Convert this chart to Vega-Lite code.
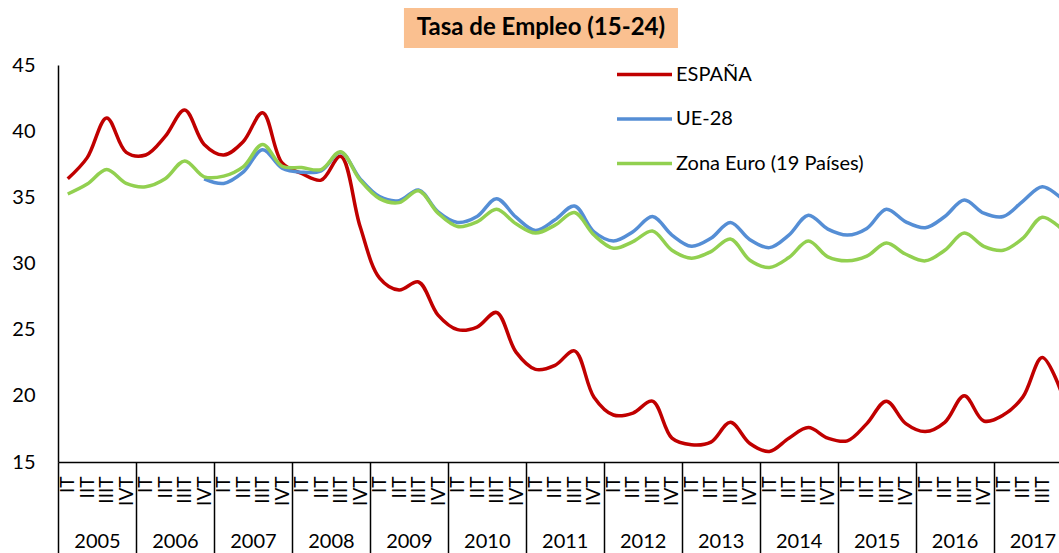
{
  "$schema": "https://vega.github.io/schema/vega-lite/v6.json",
  "width": 1001,
  "height": 397,
  "autosize": {"type": "none"},
  "padding": {"left": 58, "top": 65, "right": 0, "bottom": 91},
  "background": "white",
  "config": {
    "view": {"stroke": null},
    "font": "Lato",
    "axis": {"grid": false, "labelFont": "Lato", "labelColor": "black"},
    "legend": {"labelFont": "Lato", "labelColor": "black"},
    "text": {"font": "Lato"}
  },
  "datasets": {
    "titulo": [{"titulo": "Tasa de Empleo (15-24)"}],
    "serie": [
      {"t": 0, "serie": "ESPAÑA", "v": 36.4}, {"t": 1, "serie": "ESPAÑA", "v": 38.0}, {"t": 2, "serie": "ESPAÑA", "v": 41.0}, {"t": 3, "serie": "ESPAÑA", "v": 38.4},
      {"t": 4, "serie": "ESPAÑA", "v": 38.2}, {"t": 5, "serie": "ESPAÑA", "v": 39.6}, {"t": 6, "serie": "ESPAÑA", "v": 41.6}, {"t": 7, "serie": "ESPAÑA", "v": 39.0},
      {"t": 8, "serie": "ESPAÑA", "v": 38.2}, {"t": 9, "serie": "ESPAÑA", "v": 39.2}, {"t": 10, "serie": "ESPAÑA", "v": 41.4}, {"t": 11, "serie": "ESPAÑA", "v": 37.6},
      {"t": 12, "serie": "ESPAÑA", "v": 36.8}, {"t": 13, "serie": "ESPAÑA", "v": 36.3}, {"t": 14, "serie": "ESPAÑA", "v": 38.1}, {"t": 15, "serie": "ESPAÑA", "v": 32.8},
      {"t": 16, "serie": "ESPAÑA", "v": 28.9}, {"t": 17, "serie": "ESPAÑA", "v": 28.0}, {"t": 18, "serie": "ESPAÑA", "v": 28.6}, {"t": 19, "serie": "ESPAÑA", "v": 26.1},
      {"t": 20, "serie": "ESPAÑA", "v": 25.0}, {"t": 21, "serie": "ESPAÑA", "v": 25.2}, {"t": 22, "serie": "ESPAÑA", "v": 26.3}, {"t": 23, "serie": "ESPAÑA", "v": 23.3},
      {"t": 24, "serie": "ESPAÑA", "v": 22.0}, {"t": 25, "serie": "ESPAÑA", "v": 22.3}, {"t": 26, "serie": "ESPAÑA", "v": 23.4}, {"t": 27, "serie": "ESPAÑA", "v": 19.9},
      {"t": 28, "serie": "ESPAÑA", "v": 18.55}, {"t": 29, "serie": "ESPAÑA", "v": 18.7}, {"t": 30, "serie": "ESPAÑA", "v": 19.6}, {"t": 31, "serie": "ESPAÑA", "v": 16.8},
      {"t": 32, "serie": "ESPAÑA", "v": 16.3}, {"t": 33, "serie": "ESPAÑA", "v": 16.5}, {"t": 34, "serie": "ESPAÑA", "v": 18.0}, {"t": 35, "serie": "ESPAÑA", "v": 16.4},
      {"t": 36, "serie": "ESPAÑA", "v": 15.8}, {"t": 37, "serie": "ESPAÑA", "v": 16.8}, {"t": 38, "serie": "ESPAÑA", "v": 17.6}, {"t": 39, "serie": "ESPAÑA", "v": 16.8},
      {"t": 40, "serie": "ESPAÑA", "v": 16.6}, {"t": 41, "serie": "ESPAÑA", "v": 17.9}, {"t": 42, "serie": "ESPAÑA", "v": 19.6}, {"t": 43, "serie": "ESPAÑA", "v": 17.9},
      {"t": 44, "serie": "ESPAÑA", "v": 17.3}, {"t": 45, "serie": "ESPAÑA", "v": 18.0}, {"t": 46, "serie": "ESPAÑA", "v": 20.0}, {"t": 47, "serie": "ESPAÑA", "v": 18.1},
      {"t": 48, "serie": "ESPAÑA", "v": 18.55}, {"t": 49, "serie": "ESPAÑA", "v": 19.9}, {"t": 50, "serie": "ESPAÑA", "v": 22.9}, {"t": 51, "serie": "ESPAÑA", "v": 20.2},
      {"t": 7, "serie": "UE-28", "v": 36.4},
      {"t": 8, "serie": "UE-28", "v": 36.05}, {"t": 9, "serie": "UE-28", "v": 36.9}, {"t": 10, "serie": "UE-28", "v": 38.6}, {"t": 11, "serie": "UE-28", "v": 37.2},
      {"t": 12, "serie": "UE-28", "v": 36.9}, {"t": 13, "serie": "UE-28", "v": 37.0}, {"t": 14, "serie": "UE-28", "v": 38.4}, {"t": 15, "serie": "UE-28", "v": 36.4},
      {"t": 16, "serie": "UE-28", "v": 35.05}, {"t": 17, "serie": "UE-28", "v": 34.75}, {"t": 18, "serie": "UE-28", "v": 35.55}, {"t": 19, "serie": "UE-28", "v": 33.9},
      {"t": 20, "serie": "UE-28", "v": 33.1}, {"t": 21, "serie": "UE-28", "v": 33.55}, {"t": 22, "serie": "UE-28", "v": 34.9}, {"t": 23, "serie": "UE-28", "v": 33.5},
      {"t": 24, "serie": "UE-28", "v": 32.5}, {"t": 25, "serie": "UE-28", "v": 33.3}, {"t": 26, "serie": "UE-28", "v": 34.35}, {"t": 27, "serie": "UE-28", "v": 32.4},
      {"t": 28, "serie": "UE-28", "v": 31.7}, {"t": 29, "serie": "UE-28", "v": 32.4}, {"t": 30, "serie": "UE-28", "v": 33.55}, {"t": 31, "serie": "UE-28", "v": 32.15},
      {"t": 32, "serie": "UE-28", "v": 31.3}, {"t": 33, "serie": "UE-28", "v": 31.9}, {"t": 34, "serie": "UE-28", "v": 33.1}, {"t": 35, "serie": "UE-28", "v": 31.8},
      {"t": 36, "serie": "UE-28", "v": 31.2}, {"t": 37, "serie": "UE-28", "v": 32.15}, {"t": 38, "serie": "UE-28", "v": 33.65}, {"t": 39, "serie": "UE-28", "v": 32.6},
      {"t": 40, "serie": "UE-28", "v": 32.15}, {"t": 41, "serie": "UE-28", "v": 32.65}, {"t": 42, "serie": "UE-28", "v": 34.1}, {"t": 43, "serie": "UE-28", "v": 33.15},
      {"t": 44, "serie": "UE-28", "v": 32.7}, {"t": 45, "serie": "UE-28", "v": 33.55}, {"t": 46, "serie": "UE-28", "v": 34.8}, {"t": 47, "serie": "UE-28", "v": 33.8},
      {"t": 48, "serie": "UE-28", "v": 33.55}, {"t": 49, "serie": "UE-28", "v": 34.7}, {"t": 50, "serie": "UE-28", "v": 35.8}, {"t": 51, "serie": "UE-28", "v": 34.9},
      {"t": 0, "serie": "Zona Euro (19 Países)", "v": 35.25}, {"t": 1, "serie": "Zona Euro (19 Países)", "v": 36.0}, {"t": 2, "serie": "Zona Euro (19 Países)", "v": 37.1}, {"t": 3, "serie": "Zona Euro (19 Países)", "v": 36.05},
      {"t": 4, "serie": "Zona Euro (19 Países)", "v": 35.8}, {"t": 5, "serie": "Zona Euro (19 Países)", "v": 36.4}, {"t": 6, "serie": "Zona Euro (19 Países)", "v": 37.75}, {"t": 7, "serie": "Zona Euro (19 Países)", "v": 36.55},
      {"t": 8, "serie": "Zona Euro (19 Países)", "v": 36.6}, {"t": 9, "serie": "Zona Euro (19 Países)", "v": 37.3}, {"t": 10, "serie": "Zona Euro (19 Países)", "v": 39.0}, {"t": 11, "serie": "Zona Euro (19 Países)", "v": 37.35},
      {"t": 12, "serie": "Zona Euro (19 Países)", "v": 37.25}, {"t": 13, "serie": "Zona Euro (19 Países)", "v": 37.1}, {"t": 14, "serie": "Zona Euro (19 Países)", "v": 38.45}, {"t": 15, "serie": "Zona Euro (19 Países)", "v": 36.3},
      {"t": 16, "serie": "Zona Euro (19 Países)", "v": 34.9}, {"t": 17, "serie": "Zona Euro (19 Países)", "v": 34.6}, {"t": 18, "serie": "Zona Euro (19 Países)", "v": 35.5}, {"t": 19, "serie": "Zona Euro (19 Países)", "v": 33.8},
      {"t": 20, "serie": "Zona Euro (19 Países)", "v": 32.8}, {"t": 21, "serie": "Zona Euro (19 Países)", "v": 33.15}, {"t": 22, "serie": "Zona Euro (19 Países)", "v": 34.1}, {"t": 23, "serie": "Zona Euro (19 Países)", "v": 33.0},
      {"t": 24, "serie": "Zona Euro (19 Países)", "v": 32.3}, {"t": 25, "serie": "Zona Euro (19 Países)", "v": 32.9}, {"t": 26, "serie": "Zona Euro (19 Países)", "v": 33.85}, {"t": 27, "serie": "Zona Euro (19 Países)", "v": 32.15},
      {"t": 28, "serie": "Zona Euro (19 Países)", "v": 31.15}, {"t": 29, "serie": "Zona Euro (19 Países)", "v": 31.65}, {"t": 30, "serie": "Zona Euro (19 Países)", "v": 32.45}, {"t": 31, "serie": "Zona Euro (19 Países)", "v": 31.0},
      {"t": 32, "serie": "Zona Euro (19 Países)", "v": 30.4}, {"t": 33, "serie": "Zona Euro (19 Países)", "v": 30.9}, {"t": 34, "serie": "Zona Euro (19 Países)", "v": 31.85}, {"t": 35, "serie": "Zona Euro (19 Países)", "v": 30.25},
      {"t": 36, "serie": "Zona Euro (19 Países)", "v": 29.7}, {"t": 37, "serie": "Zona Euro (19 Países)", "v": 30.45}, {"t": 38, "serie": "Zona Euro (19 Países)", "v": 31.7}, {"t": 39, "serie": "Zona Euro (19 Países)", "v": 30.5},
      {"t": 40, "serie": "Zona Euro (19 Países)", "v": 30.2}, {"t": 41, "serie": "Zona Euro (19 Países)", "v": 30.55}, {"t": 42, "serie": "Zona Euro (19 Países)", "v": 31.55}, {"t": 43, "serie": "Zona Euro (19 Países)", "v": 30.7},
      {"t": 44, "serie": "Zona Euro (19 Países)", "v": 30.2}, {"t": 45, "serie": "Zona Euro (19 Países)", "v": 31.0}, {"t": 46, "serie": "Zona Euro (19 Países)", "v": 32.3}, {"t": 47, "serie": "Zona Euro (19 Países)", "v": 31.3},
      {"t": 48, "serie": "Zona Euro (19 Países)", "v": 31.0}, {"t": 49, "serie": "Zona Euro (19 Países)", "v": 31.9}, {"t": 50, "serie": "Zona Euro (19 Países)", "v": 33.5}, {"t": 51, "serie": "Zona Euro (19 Países)", "v": 32.6}
    ]
  },
  "layer": [
    {
      "data": {"name": "titulo"},
      "mark": {"type": "rect", "color": "#FAC090"},
      "encoding": {
        "x": {
          "datum": 17.25, "type": "quantitative",
          "scale": {"domain": [-0.5, 50.86], "nice": false, "zero": false},
          "axis": {
            "orient": "bottom",
            "values": [-0.5, 3.5, 7.5, 11.5, 15.5, 19.5, 23.5, 27.5, 31.5, 35.5, 39.5, 43.5, 47.5, 51.5],
            "labelExpr": "datum.value < 50 ? '' + (2005 + (datum.value + 0.5) / 4) : ''",
            "labelOffset": 39, "labelAngle": 0, "labelAlign": "center", "labelBaseline": "middle",
            "labelPadding": -12, "tickSize": 91, "tickWidth": 1.5, "tickColor": "black",
            "domain": false, "grid": false, "title": null, "labelFontSize": 20,
            "labelOverlap": false, "labelFlush": false, "labelBound": false
          }
        },
        "x2": {"datum": 31.31},
        "y": {"datum": 49.31, "type": "quantitative", "scale": {"domain": [15, 45], "nice": false, "zero": false}, "axis": null},
        "y2": {"datum": 46.28}
      }
    },
    {
      "data": {"name": "titulo"},
      "mark": {"type": "text", "fontWeight": "bold", "fontSize": 24, "color": "black", "align": "center", "baseline": "middle"},
      "encoding": {
        "text": {"field": "titulo"},
        "x": {"datum": 24.28, "type": "quantitative", "scale": {"domain": [-0.5, 50.86], "nice": false, "zero": false}, "axis": null},
        "y": {"datum": 47.8, "type": "quantitative", "scale": {"domain": [15, 45], "nice": false, "zero": false}, "axis": null}
      }
    },
    {
      "data": {"name": "serie"},
      "mark": {"type": "line", "interpolate": "catmull-rom", "strokeWidth": 3.5, "clip": true},
      "encoding": {
        "x": {
          "field": "t", "type": "quantitative",
          "scale": {"domain": [-0.5, 50.86], "nice": false, "zero": false},
          "axis": {
            "orient": "bottom",
            "values": [0,1,2,3,4,5,6,7,8,9,10,11,12,13,14,15,16,17,18,19,20,21,22,23,24,25,26,27,28,29,30,31,32,33,34,35,36,37,38,39,40,41,42,43,44,45,46,47,48,49,50,51],
            "labelExpr": "['IT','IIT','IIIT','IVT'][datum.value % 4]",
            "labelAngle": 270, "labelAlign": "right", "labelBaseline": "middle",
            "labelPadding": 14, "ticks": false, "domain": true, "domainColor": "black", "domainWidth": 1.5,
            "labelFontSize": 19, "labelOverlap": false, "labelFlush": false, "labelBound": false, "title": null, "grid": false
          }
        },
        "y": {
          "field": "v", "type": "quantitative",
          "scale": {"domain": [15, 45], "nice": false, "zero": false},
          "axis": {
            "orient": "left", "values": [15, 20, 25, 30, 35, 40, 45], "ticks": false,
            "domainColor": "black", "domainWidth": 1.5, "labelPadding": 23, "labelFontSize": 20,
            "labelFlush": false, "labelOverlap": false, "title": null, "grid": false
          }
        },
        "color": {
          "field": "serie", "type": "nominal",
          "scale": {"domain": ["ESPAÑA", "UE-28", "Zona Euro (19 Países)"], "range": ["#C00000", "#558ED5", "#92D050"]},
          "legend": {
            "orient": "none", "legendX": 557, "legendY": -20, "title": null, "padding": 0,
            "symbolType": "stroke", "symbolSize": 3025, "symbolStrokeWidth": 3.5,
            "labelFontSize": 20, "labelLimit": 400, "rowPadding": 4.5, "labelOffset": 2
          }
        }
      }
    }
  ],
  "resolve": {"axis": {"x": "independent", "y": "independent"}}
}
